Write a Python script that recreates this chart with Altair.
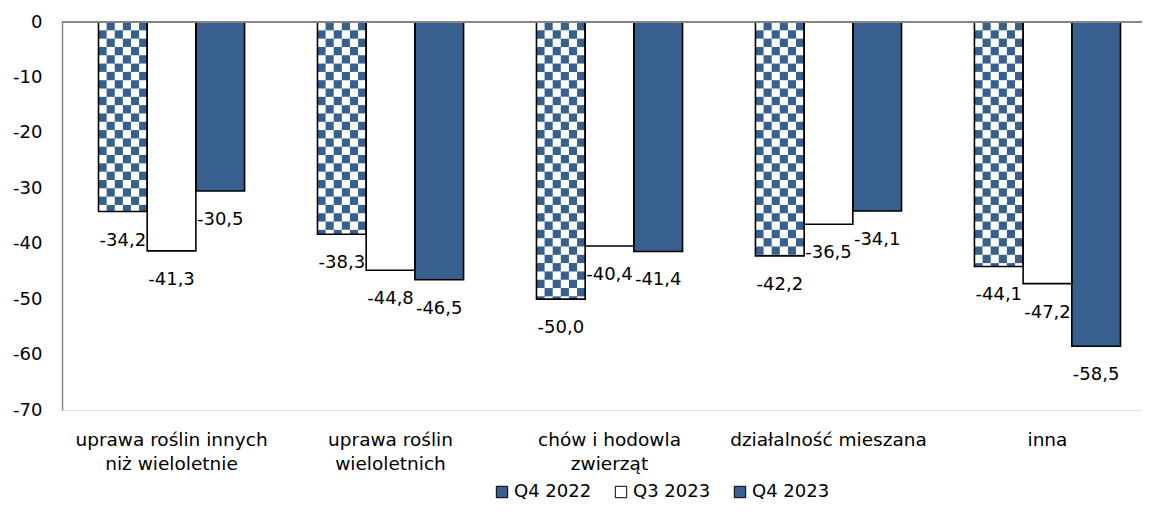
import math
import altair as alt
import pandas as pd

# ---- data ----
categories = [
    "uprawa roślin innych\nniż wieloletnie",
    "uprawa roślin\nwieloletnich",
    "chów i hodowla\nzwierząt",
    "działalność mieszana",
    "inna",
]
series = ["Q4 2022", "Q3 2023", "Q4 2023"]
q4_2022 = [-34.2, -38.3, -50.0, -42.2, -44.1]
q3_2023 = [-41.3, -44.8, -40.4, -36.5, -47.2]
q4_2023 = [-30.5, -46.5, -41.4, -34.1, -58.5]
y_ticks = [0, -10, -20, -30, -40, -50, -60, -70]

BLUE = "#37608F"
FONT = "DejaVu Sans"

rows = []
for s, vals in zip(series, [q4_2022, q3_2023, q4_2023]):
    for c, v in zip(categories, vals):
        rows.append({"category": c, "series": s, "value": v})
bars = pd.DataFrame(rows)

# checkered pattern cells for the Q4 2022 bars (white squares over blue)
CELL_H = 1.5      # pattern cell height in data units
N_COLS = 6        # pattern cells across one bar
subs = [f"s{i}c{j}" for i in range(3) for j in range(N_COLS)]
cell_rows = []
for c, v in zip(categories, q4_2022):
    n = math.ceil(abs(v) / CELL_H)
    for k in range(n):
        top = -k * CELL_H
        bot = max(-(k + 1) * CELL_H, v)
        for j in range(N_COLS):
            if (k + j) % 2 == 0:
                cell_rows.append({"category": c, "sub": f"s0c{j}", "y": top, "y2": bot})
cells = pd.DataFrame(cell_rows)

x_axis = alt.Axis(
    title=None, domain=False, ticks=False, grid=False, labelAngle=0,
    labelExpr="split(datum.label, '\\n')",
    labelFontSize=18.5, labelFont=FONT, labelColor="black",
    labelPadding=20, labelLineHeight=24, labelLimit=400,
)
x_scale = alt.Scale(range=[0, 1095], paddingInner=0.333, paddingOuter=0.1667)
y_axis = alt.Axis(title=None, values=y_ticks, grid=False, ticks=False, domain=True,
                  labelExpr="toString(datum.value)",
                  labelFontSize=18, labelFont=FONT, labelColor="black",
                  labelPadding=20, domainColor="#868686", domainWidth=1.5)
y_scale = alt.Scale(domain=[-70, 0], nice=False, zero=True)


def x_enc():
    return alt.X("category:N", sort=categories, scale=x_scale, axis=x_axis)


def y_enc(field):
    return alt.Y(field, scale=y_scale, axis=y_axis)


def series_offset():
    return alt.XOffset("series:N", sort=series,
                       scale=alt.Scale(type="band", domain=series,
                                       paddingInner=0, paddingOuter=0))


base_bars = alt.Chart(bars).mark_bar(strokeWidth=0).encode(
    x=x_enc(),
    xOffset=series_offset(),
    y=y_enc("value:Q"),
    fill=alt.Fill("series:N", sort=series,
                  scale=alt.Scale(domain=series, range=[BLUE, "white", BLUE]),
                  legend=alt.Legend(
                      title=None, orient="none", direction="horizontal",
                      legendX=431, legendY=461,
                      symbolType="square", symbolSize=130,
                      symbolStrokeColor="black", symbolStrokeWidth=1,
                      labelFontSize=18, labelFont=FONT, labelColor="black",
                      labelOffset=3, columnPadding=20,
                  )),
)

checker = alt.Chart(cells).mark_rect(fill="white", strokeWidth=0).encode(
    x=x_enc(),
    xOffset=alt.XOffset("sub:N", scale=alt.Scale(type="band", domain=subs,
                                                 paddingInner=0, paddingOuter=0)),
    y=y_enc("y:Q"),
    y2="y2:Q",
)

outline = alt.Chart(bars).mark_bar(fillOpacity=0, stroke="black", strokeWidth=1.6).encode(
    x=x_enc(),
    xOffset=series_offset(),
    y=y_enc("value:Q"),
)

labels = alt.Chart(bars).transform_calculate(
    txt="(datum.value < 0 ? '-' : '') + replace(format(abs(datum.value), '.1f'), '.', ',')"
).mark_text(fontSize=18, font=FONT, color="black", baseline="alphabetic", dy=34).encode(
    x=x_enc(),
    xOffset=series_offset(),
    y=y_enc("value:Q"),
    text="txt:N",
)

zero_rule = alt.Chart(bars).mark_rule(color="#868686", strokeWidth=1.5).encode(
    y=alt.datum(0, scale=y_scale, axis=y_axis)
)

chart = (
    alt.layer(base_bars, checker, outline, labels, zero_rule)
    .resolve_scale(xOffset="independent")
    .properties(
        width=1080, height=388,
        autosize=alt.AutoSizeParams(type="none"),
        padding={"left": 54, "top": 14, "right": 0, "bottom": 93},
    )
    .configure_view(stroke="transparent", strokeWidth=0, strokeOpacity=0)
    .configure_axis(grid=False)
    .configure_axisX(domain=False, grid=False)
    .configure(background="white")
)

chart.save("out.html", embed_options={"renderer": "svg", "actions": False})
